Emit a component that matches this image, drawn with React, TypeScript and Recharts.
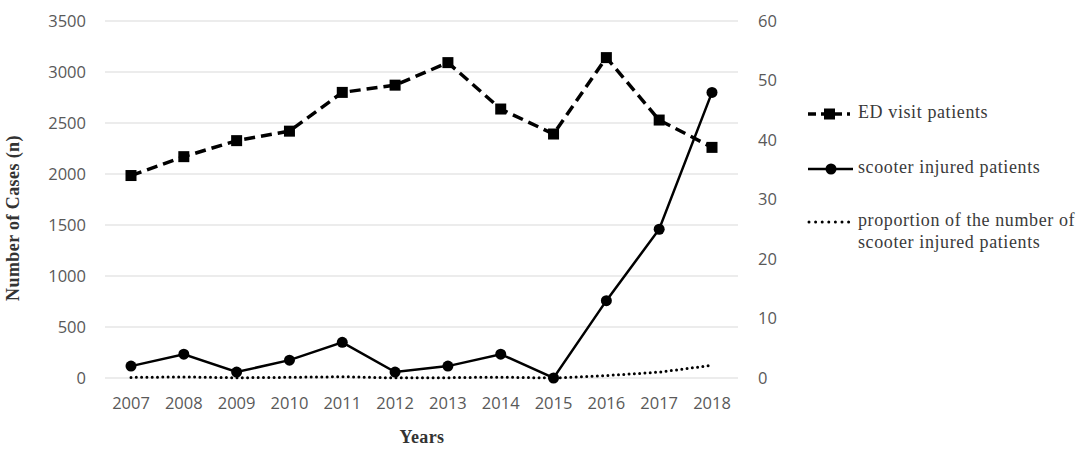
import { LineChart, Line, XAxis, YAxis, CartesianGrid } from "recharts";

const years = ["2007", "2008", "2009", "2010", "2011", "2012", "2013", "2014", "2015", "2016", "2017", "2018"];
const edVisits = [1985, 2170, 2327, 2420, 2800, 2871, 3092, 2637, 2392, 3141, 2529, 2261];
const scooterInjured = [2, 4, 1, 3, 6, 1, 2, 4, 0, 13, 25, 48];
const proportion = [0.1, 0.18, 0.04, 0.12, 0.21, 0.03, 0.06, 0.15, 0, 0.41, 0.99, 2.13];
const leftTicks = [0, 500, 1000, 1500, 2000, 2500, 3000, 3500];
const rightTicks = [0, 10, 20, 30, 40, 50, 60];

const data = years.map((year, i) => ({
  year,
  ed: edVisits[i],
  scooter: scooterInjured[i],
  prop: proportion[i],
}));

const TICK_FONT = { fontFamily: "'Open Sans', sans-serif", fontSize: 16.5, fill: "#595959" };
const SERIF = "'Liberation Serif', 'Times New Roman', serif";

function SquareDot(props: any) {
  const { cx, cy, index } = props;
  if (cx == null || cy == null) return null;
  return <rect key={`sq-${index}`} x={cx - 5.5} y={cy - 5.5} width={11} height={11} fill="#000" />;
}

// legend drawn beside the plot, like the Excel original
function ChartLegend() {
  const textStyle = { fontFamily: SERIF, fontSize: 18, fill: "#3a3a3a", letterSpacing: 0.6 };
  return (
    <svg width={284} height={160} style={{ position: "absolute", left: 800, top: 100 }}>
      <line x1={8} y1={14} x2={50} y2={14} stroke="#000" strokeWidth={3.5} strokeDasharray="8 5" />
      <rect x={24} y={8.5} width={11} height={11} fill="#000" />
      <text x={58} y={14} dominantBaseline="middle" {...textStyle}>ED visit patients</text>
      <line x1={8} y1={69} x2={53} y2={69} stroke="#000" strokeWidth={2.5} />
      <circle cx={31} cy={69} r={5.5} fill="#000" />
      <text x={58} y={69} dominantBaseline="middle" {...textStyle}>scooter injured patients</text>
      <line x1={9} y1={122} x2={50} y2={122} stroke="#000" strokeWidth={3} strokeDasharray="0 6.6" strokeLinecap="round" />
      <text x={58} y={122} dominantBaseline="middle" {...textStyle}>proportion of the number of</text>
      <text x={58} y={144} dominantBaseline="middle" {...textStyle}>scooter injured patients</text>
    </svg>
  );
}

export default function App() {
  return (
    <div style={{ position: "absolute", left: 0, top: 0, width: 1084, height: 451, background: "#fff" }}>
      <LineChart width={1084} height={451} data={data} margin={{ top: 21, right: 286, left: 30, bottom: 33 }}>
        <CartesianGrid vertical={false} stroke="#d9d9d9" strokeWidth={1.2} yAxisId="left" />
        <XAxis
          dataKey="year"
          axisLine={false}
          tickLine={false}
          tick={TICK_FONT}
          tickMargin={13}
          height={40}
          padding={{ left: 26, right: 26 }}
          interval={0}
        />
        <YAxis
          yAxisId="left"
          domain={[0, 3500]}
          ticks={leftTicks}
          axisLine={false}
          tickLine={false}
          tick={TICK_FONT}
          tickMargin={13}
          width={75}
          label={() => (
            <text
              x={15}
              y={218}
              transform="rotate(-90 15 218)"
              textAnchor="middle"
              dominantBaseline="middle"
              fontFamily={SERIF}
              fontWeight="bold"
              fontSize={18}
              letterSpacing={0.4}
              fill="#333"
            >
              Number of Cases (n)
            </text>
          )}
        />
        <YAxis
          yAxisId="right"
          orientation="right"
          domain={[0, 60]}
          ticks={rightTicks}
          axisLine={false}
          tickLine={false}
          tick={{ ...TICK_FONT, textAnchor: "start" }}
          tickMargin={14}
          width={60}
        />
        <Line
          yAxisId="left"
          dataKey="ed"
          stroke="#000"
          strokeWidth={3.5}
          strokeDasharray="11 6"
          dot={SquareDot}
          activeDot={false}
          isAnimationActive={false}
        />
        <Line
          yAxisId="right"
          dataKey="scooter"
          stroke="#000"
          strokeWidth={2.5}
          dot={{ r: 5.5, fill: "#000", stroke: "#000", strokeWidth: 0 }}
          activeDot={false}
          isAnimationActive={false}
        />
        <Line
          yAxisId="right"
          dataKey="prop"
          stroke="#000"
          strokeWidth={3}
          strokeDasharray="0 5.3"
          strokeLinecap="round"
          dot={false}
          activeDot={false}
          isAnimationActive={false}
        />
      </LineChart>
      <ChartLegend />
      <div
        style={{
          position: "absolute",
          left: 372,
          top: 425,
          width: 100,
          textAlign: "center",
          fontFamily: SERIF,
          fontWeight: "bold",
          fontSize: 18,
          letterSpacing: 0.4,
          color: "#333",
          lineHeight: "24px",
        }}
      >
        Years
      </div>
    </div>
  );
}
